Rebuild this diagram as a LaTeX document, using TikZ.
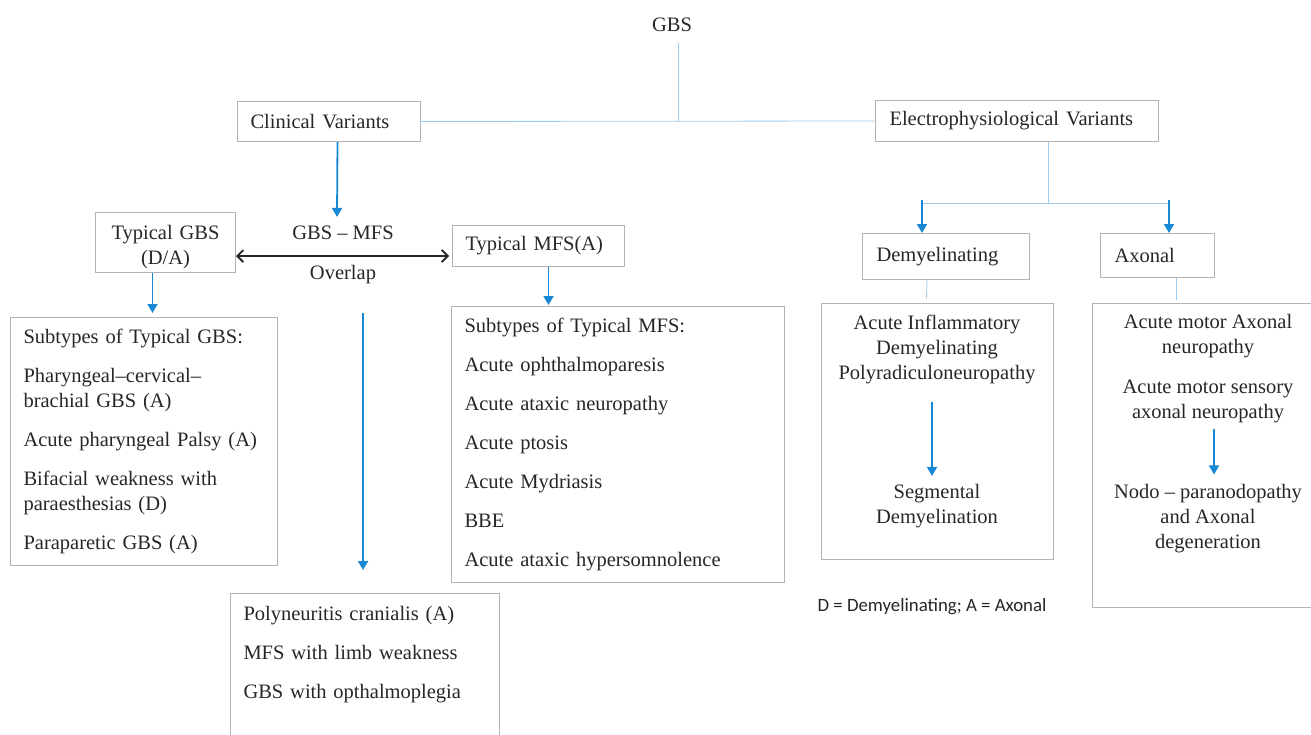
\documentclass[tikz,border=0pt]{standalone}
\usepackage{fontspec}
\setmainfont{Liberation Serif}
\newfontfamily\notefont{Carlito}
\usetikzlibrary{arrows.meta, positioning}

\definecolor{txtgray}{HTML}{262626}
\definecolor{boxgray}{HTML}{B4B4B4}
\definecolor{arrowblue}{HTML}{1888D4}
\definecolor{lineblue}{HTML}{9CCBF0}

\begin{document}
\begin{tikzpicture}[
        x=1pt, y=-1pt,
        every node/.style={text=txtgray, font=\fontsize{20.5}{25}\selectfont},
        box/.style={
                draw=boxgray, line width=1pt, rectangle, anchor=north west,
                inner ysep=0pt, inner xsep=13pt, align=left
            },
        plain/.style={inner sep=0pt, align=center},
        arrow/.style={-{Triangle[width=10pt,length=9pt]}, line width=1.8pt, draw=arrowblue},
        link/.style={draw=lineblue, line width=0.8pt},
        overlap/.style={
                {Straight Barb[width=12pt,length=6pt]}-{Straight Barb[width=12pt,length=6pt]},
                line width=1.8pt, draw=black!85
            }
    ]
    \useasboundingbox (0,0) rectangle (1311,734);

    \node[plain] (gbs) at (672,25) {GBS};

    \node[box, text width=157pt, minimum height=40pt] (clin) at (237,101) {Clinical Variants};
    \node[box, inner xsep=14pt, text width=255pt, minimum height=41pt] (elec) at (875,100) {Electrophysiological Variants};

    \node[box, align=center, text width=114pt, minimum height=60pt] (tgbs) at (95,212) {\rule{0pt}{24pt}Typical GBS\\(D/A)};
    \node[box, text width=146pt, minimum height=41pt] (tmfs) at (452,225) {Typical MFS(A)};
    \node[plain] (ovtop) at (343,233) {GBS – MFS};
    \node[plain] (ovbot) at (343,275) {Overlap};
    \coordinate (ovmid) at (343,256);

    \node[box, text width=241pt, minimum height=248pt] (gsub) at (10,317) {Subtypes of Typical GBS:\\[14pt]
        Pharyngeal–cervical–\\brachial GBS (A)\\[14pt]
        Acute pharyngeal Palsy (A)\\[14pt]
        Bifacial weakness with\\paraesthesias (D)\\[14pt]
        Paraparetic GBS (A)};
    \node[box, text width=307pt, minimum height=276pt] (msub) at (451,306) {Subtypes of Typical MFS:\\[14pt]
        Acute ophthalmoparesis\\[14pt]
        Acute ataxic neuropathy\\[14pt]
        Acute ptosis\\[14pt]
        Acute Mydriasis\\[14pt]
        BBE\\[14pt]
        Acute ataxic hypersomnolence};
    \node[box, inner ysep=13pt, text width=243pt] (over) at (230,593) {Polyneuritis cranialis (A)\\[14pt]
        MFS with limb weakness\\[14pt]
        GBS with opthalmoplegia\\[28pt]\mbox{}};

    \node[box, inner xsep=14pt, text width=139pt, minimum height=46pt] (demy) at (862,233) {Demyelinating};
    \node[box, inner xsep=14pt, text width=86pt, minimum height=44pt] (axon) at (1100,233) {Axonal};

    \node[box, minimum width=232pt, minimum height=256pt] (aidpbox) at (821,303) {};
    \node[plain] (aidp) at (937,349) {Acute Inflammatory\\Demyelinating\\Polyradiculoneuropathy};
    \node[plain] (segdem) at (937,506) {Segmental\\Demyelination};

    \node[box, minimum width=232pt, minimum height=304pt] (axbox) at (1092,303) {};
    \node[plain] (aman) at (1208,336) {Acute motor Axonal\\neuropathy};
    \node[plain] (amsan) at (1208,401) {Acute motor sensory\\axonal neuropathy};
    \node[plain] (nodo) at (1208,519) {Nodo – paranodopathy\\and Axonal\\degeneration};

    \node[plain, font=\notefont\fontsize{18.8}{22}\selectfont] (note) at (932,607) {D = Demyelinating; A = Axonal};

    \coordinate (gjoin) at (678,122);
    \coordinate (ejoin) at (1048,203);
    \coordinate (dsplit) at (922,203);
    \coordinate (asplit) at (1169,203);

    \draw[link, shorten <=11pt] (gbs.south -| gjoin) -- (gjoin);
    \draw[link] (clin.east) -- (elec.west);
    \draw[link] (elec.south -| ejoin) -- (ejoin);
    \draw[link] (dsplit) -- (asplit);
    \draw[arrow] ([yshift=3pt]dsplit) -- (dsplit |- demy.north);
    \draw[arrow] ([yshift=3pt]asplit) -- (asplit |- axon.north);
    \draw[link] ([xshift=-19pt]demy.south) -- ([xshift=-11pt,yshift=5pt]aidpbox.north);
    \draw[link, shorten >=3pt] ([xshift=19pt]axon.south) -- ([xshift=19pt]axon.south |- axbox.north);
    \draw[arrow, shorten <=18pt, shorten >=8pt] ([xshift=-5pt]aidp.south) -- ([xshift=-5pt]segdem.north);
    \draw[arrow, shorten <=6pt, shorten >=10pt] ([xshift=6pt]amsan.south) -- ([xshift=6pt]nodo.north);

    \draw[arrow] ([xshift=8.5pt]clin.south) -- ([xshift=-6pt,yshift=9pt]ovtop.north);
    \draw[overlap, shorten >=3pt] (tgbs.east |- ovmid) -- (tmfs.west |- ovmid);
    \draw[arrow, shorten >=4pt] ([xshift=-13pt]tgbs.south) -- ([xshift=-13pt]tgbs.south |- gsub.north);
    \draw[arrow, shorten >=1pt] ([xshift=10pt]tmfs.south) -- ([xshift=10pt]tmfs.south |- msub.north);
    \draw[arrow, shorten <=28pt, shorten >=23pt] ([xshift=20pt]ovbot.south) -- ([xshift=20pt]ovbot.south |- over.north);
\end{tikzpicture}
\end{document}
